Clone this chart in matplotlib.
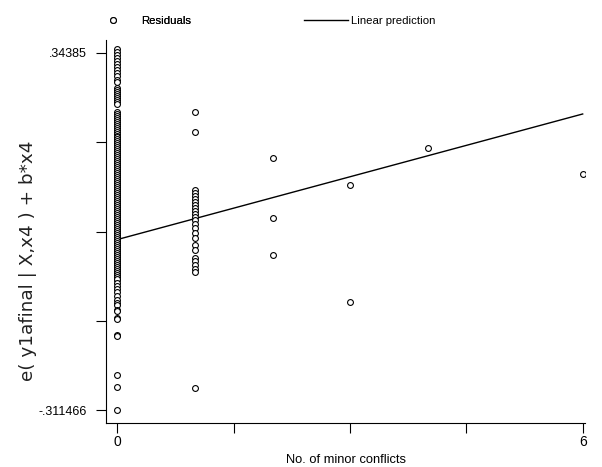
import matplotlib
matplotlib.use("Agg")
import matplotlib.pyplot as plt
from matplotlib.lines import Line2D
import numpy as np

# ---- data ----
x0_resid = [0.3512, 0.3457, 0.3402, 0.3347, 0.3292, 0.3237, 0.3182, 0.3127, 0.3072, 0.3017,
            0.2943, 0.2907, 0.2796, 0.2760, 0.2723, 0.2686, 0.2649, 0.2613, 0.2576, 0.2539,
            0.2503, 0.2356, 0.2319, 0.2282, 0.2245, 0.2209, 0.2172, 0.2135, 0.2099, 0.2062,
            0.2025, 0.1989, 0.1952,
            0.191, 0.187, 0.184, 0.180, 0.176, 0.173, 0.169, 0.165, 0.162, 0.158, 0.154,
            0.151, 0.147, 0.143, 0.140, 0.136, 0.132, 0.129, 0.125, 0.121, 0.118, 0.114,
            0.110, 0.107, 0.103, 0.099, 0.096, 0.092, 0.088, 0.085, 0.081, 0.077, 0.074,
            0.070, 0.066, 0.063, 0.059, 0.055, 0.052, 0.048, 0.044, 0.041, 0.037, 0.033,
            0.030, 0.026, 0.022, 0.019, 0.015, 0.011, 0.008, 0.004, 0.000, -0.003, -0.007,
            -0.011, -0.014, -0.018, -0.022, -0.025, -0.029, -0.033, -0.036, -0.040, -0.044,
            -0.047, -0.051, -0.055, -0.058, -0.062, -0.066, -0.069, -0.073,
            0.189, 0.1855, 0.182, 0.178, 0.1745, 0.171, 0.167, 0.1635, 0.160, 0.156, 0.1525,
            0.149, 0.145, 0.1415, 0.138, 0.134, 0.1305, 0.127, 0.123, 0.1195, 0.116, 0.112,
            0.1085, 0.105, 0.101, 0.0975, 0.094, 0.090, 0.0865, 0.083, 0.079, 0.0755, 0.072,
            0.068, 0.0645, 0.061, 0.057, 0.0535, 0.050, 0.046, 0.0425, 0.039, 0.035, 0.0315,
            0.028, 0.024, 0.0205, 0.017, 0.013, 0.0095, 0.006, 0.002, -0.0015, -0.005, -0.009,
            -0.0125, -0.016, -0.020, -0.0235, -0.027, -0.031, -0.0345, -0.038, -0.042, -0.0455,
            -0.049, -0.053, -0.0565, -0.060, -0.064, -0.0675, -0.071,
            -0.0784, -0.0839, -0.0894, -0.0949, -0.1022, -0.1095, -0.1151, -0.1188,
            -0.1280, -0.1298, -0.1426, -0.1445, -0.1739, -0.1757, -0.2473, -0.2693, -0.3115]
x1_resid = [0.2356, 0.1989, 0.0924, 0.0869, 0.0814, 0.0759, 0.0703, 0.0648, 0.0593, 0.0538,
            0.0483, 0.0428, 0.0373, 0.0299, 0.0226, 0.0134, 0.0042, -0.0086, -0.0177,
            -0.0324, -0.0379, -0.0453, -0.0526, -0.0581, -0.2712]
x2_resid = [0.1511, 0.0410, -0.0269]
x3_resid = [0.1015, -0.1133]
x4_resid = [0.1695]
x6_resid = [0.1218]

fit_intercept = 0.0015
fit_slope = 0.0384
fit_x = [0, 6]

y_min_label = -0.311466
y_max_label = 0.34385
x_tick_values = [0, 1.5, 3, 4.5, 6]
x_tick_labels = ["0", "", "", "", "6"]

xs = ([0] * len(x0_resid) + [1] * len(x1_resid) + [2] * len(x2_resid) +
      [3] * len(x3_resid) + [4] * len(x4_resid) + [6] * len(x6_resid))
ys = x0_resid + x1_resid + x2_resid + x3_resid + x4_resid + x6_resid

plt.rcParams['font.family'] = ['Liberation Sans', 'DejaVu Sans']
FS = 9.3
LFS = 8.2

fig = plt.figure(figsize=(6.02, 4.67), dpi=100)
ax = fig.add_axes([106 / 602, 44 / 467, (585 - 106) / 602, (423 - 40) / 467])

ax.plot(xs, ys, linestyle='none', marker='o', markersize=4.2, markerfacecolor='white',
        markeredgecolor='black', markeredgewidth=0.8, zorder=3)
fy = [fit_intercept + fit_slope * v for v in fit_x]
ax.plot(fit_x, fy, color='black', linewidth=1.0, zorder=2)

ax.set_xlim(-0.148, 6.03)
ax.set_ylim(-0.3353, 0.3677)

yt = np.linspace(y_min_label, y_max_label, 5)
ax.set_yticks(yt)
ax.set_yticklabels(["-.311466", "", "", "", ".34385"], fontsize=9.0)
ax.set_xticks(x_tick_values)
ax.set_xticklabels(x_tick_labels, fontsize=FS + 0.7)
ax.tick_params(direction='out', length=7, width=0.8, color='black')
ax.tick_params(axis='y', pad=7)
ax.tick_params(axis='x', pad=2)

for s in ['top', 'right']:
    ax.spines[s].set_visible(False)
for s in ['left', 'bottom']:
    ax.spines[s].set_linewidth(0.8)

ax.set_xlabel("No. of minor conflicts", fontsize=FS, labelpad=3)
fig.text(28 / 602, 1 - 261 / 467, "e( y1afinal | X,x4 ) + b*x4", rotation=90,
         ha='center', va='center', fontsize=13.2, family=['DejaVu Sans'],
         color='#222222')

h1 = Line2D([], [], linestyle='none', marker='o', markersize=4.2, markerfacecolor='white',
            markeredgecolor='black', markeredgewidth=0.8)
h2 = Line2D([], [], color='black', linewidth=1.0)
leg1 = fig.legend([h1], ["Residuals"], loc='center left', bbox_to_anchor=(106 / 602, 1 - 21 / 467),
                  frameon=False, fontsize=LFS, handlelength=1.2, handletextpad=1.9,
                  borderpad=0, borderaxespad=0)
fig.add_artist(leg1)
leg2 = fig.legend([h2], ["Linear prediction"], loc='center left',
                  bbox_to_anchor=(304 / 602, 1 - 21 / 467),
                  frameon=False, fontsize=LFS, handlelength=3.9, handletextpad=0.2,
                  borderpad=0, borderaxespad=0)

fig.savefig("out.png", dpi=100)
